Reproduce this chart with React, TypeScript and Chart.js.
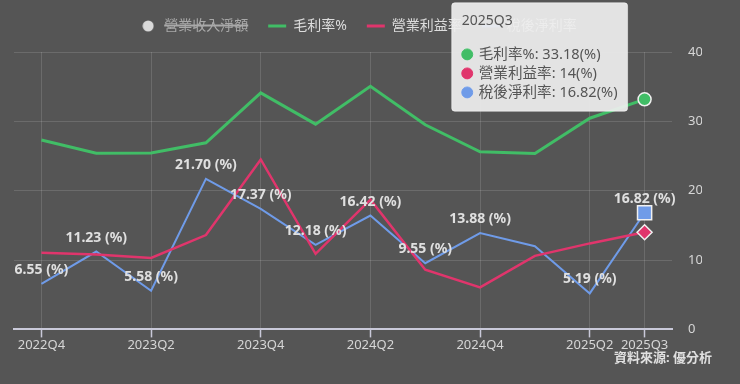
import React, { useEffect, useRef } from "react";
import { Chart, registerables, Tooltip } from "chart.js";

Chart.register(...registerables);

const quarters = ["2022Q4", "2023Q1", "2023Q2", "2023Q3", "2023Q4", "2024Q1", "2024Q2", "2024Q3", "2024Q4", "2025Q1", "2025Q2", "2025Q3"];
const revenue: number[] = []; // hidden series (not visible in the picture)
const grossMargin = [27.3, 25.4, 25.45, 26.9, 34.1, 29.6, 35.05, 29.5, 25.6, 25.35, 30.45, 33.18];
const operatingMargin = [11.05, 10.8, 10.3, 13.6, 24.5, 10.9, 18.7, 8.6, 6.06, 10.6, 12.4, 14];
const netMargin = [6.55, 11.23, 5.58, 21.7, 17.37, 12.18, 16.42, 9.55, 13.88, 12.0, 5.19, 16.82];
const netLabelShown = [true, true, true, true, true, true, true, true, true, false, true, true];
const yTicks = [0, 10, 20, 30, 40];
const sourceText = "資料來源: 優分析";

const BG = "#555555";
const GREEN = "#41bd66";
const PINK = "#e0356c";
const BLUE = "#6f9be8";
const FONT = "'Noto Sans', 'Noto Sans CJK TC', sans-serif";

(Tooltip as any).positioners.besideLast = function (elements: any[]) {
  if (!elements.length) return false;
  const el = elements[0].element;
  const area = this.chart.chartArea;
  return { x: el.x - 17, y: area.top + 5, xAlign: "right", yAlign: "center" };
};

export default function App() {
  const ref = useRef<HTMLCanvasElement | null>(null);

  useEffect(() => {
    document.body.style.margin = "0";
    document.body.style.background = BG;
    const canvas = ref.current!;
    Chart.defaults.font.family = FONT;

    const dot = document.createElement("canvas");
    dot.width = 12;
    dot.height = 12;
    const dctx = dot.getContext("2d")!;
    dctx.fillStyle = "#d9d9d9";
    dctx.beginPath();
    dctx.arc(6, 6, 5.5, 0, Math.PI * 2);
    dctx.fill();

    const last = quarters.length - 1;
    const lastOnly = (r: number) => (ctx: any) => (ctx.dataIndex === last ? r : 0);

    const bgPlugin = {
      id: "bg",
      beforeDraw(chart: any) {
        const c = chart.ctx;
        c.save();
        c.fillStyle = BG;
        c.fillRect(0, 0, chart.width, chart.height);
        c.restore();
      },
    };

    const legendSpacer = {
      id: "legendSpacer",
      beforeInit(chart: any) {
        const lg = chart.legend;
        if (!lg) return;
        const orig = lg.fit;
        lg.fit = function () {
          orig.call(this);
          this.height += 9;
        };
      },
    };

    const labelsPlugin = {
      id: "netLabels",
      afterDatasetsDraw(chart: any) {
        const meta = chart.getDatasetMeta(3);
        const c = chart.ctx;
        c.save();
        c.font = `bold 14px ${FONT}`;
        c.textAlign = "center";
        c.textBaseline = "middle";
        c.fillStyle = "#e0e0e0";
        meta.data.forEach((pt: any, i: number) => {
          if (!netLabelShown[i]) return;
          c.fillText(`${netMargin[i].toFixed(2)} (%)`, pt.x, pt.y - 14);
        });
        c.restore();
      },
    };

    const sourcePlugin = {
      id: "source",
      afterDraw(chart: any) {
        const c = chart.ctx;
        c.save();
        c.font = `bold 13px ${FONT}`;
        c.textAlign = "right";
        c.textBaseline = "middle";
        c.fillStyle = "#e0e0e0";
        c.fillText(sourceText, chart.width - 28, chart.height - 26);
        c.restore();
      },
    };

    const lineColors = ["#d9d9d9", GREEN, PINK, BLUE];

    const chart = new Chart(canvas, {
      type: "line",
      data: {
        labels: quarters,
        datasets: [
          {
            type: "bar",
            label: "營業收入淨額",
            data: revenue,
            backgroundColor: "#d9d9d9",
            borderColor: "#d9d9d9",
            hidden: true,
            yAxisID: "yRev",
          } as any,
          {
            label: "毛利率%",
            data: grossMargin,
            borderColor: GREEN,
            backgroundColor: GREEN,
            borderWidth: 3,
            tension: 0,
            pointStyle: "circle",
            pointRadius: lastOnly(6.5),
            pointHoverRadius: lastOnly(6.5),
            pointBorderColor: "#f0f0f0",
            pointHoverBorderColor: "#f0f0f0",
            pointBorderWidth: 1.5,
            pointHoverBorderWidth: 1.5,
            pointBackgroundColor: GREEN,
            pointHoverBackgroundColor: GREEN,
            yAxisID: "y",
          },
          {
            label: "營業利益率",
            data: operatingMargin,
            borderColor: PINK,
            backgroundColor: PINK,
            borderWidth: 2.5,
            tension: 0,
            pointStyle: "rectRot",
            pointRadius: lastOnly(7.5),
            pointHoverRadius: lastOnly(7.5),
            pointBorderColor: "#f0f0f0",
            pointHoverBorderColor: "#f0f0f0",
            pointBorderWidth: 1.5,
            pointHoverBorderWidth: 1.5,
            pointBackgroundColor: PINK,
            pointHoverBackgroundColor: PINK,
            yAxisID: "y",
          },
          {
            label: "稅後淨利率",
            data: netMargin,
            borderColor: BLUE,
            backgroundColor: BLUE,
            borderWidth: 2,
            tension: 0,
            pointStyle: "rect",
            pointRadius: lastOnly(10),
            pointHoverRadius: lastOnly(10),
            pointBorderColor: "#f0f0f0",
            pointHoverBorderColor: "#f0f0f0",
            pointBorderWidth: 1.5,
            pointHoverBorderWidth: 1.5,
            pointBackgroundColor: BLUE,
            pointHoverBackgroundColor: BLUE,
            yAxisID: "y",
          },
        ],
      },
      options: {
        responsive: false,
        animation: false,
        layout: { padding: { left: 14, right: 38, top: -1, bottom: 31 } },
        interaction: { mode: "index", intersect: false },
        scales: {
          x: {
            offset: true,
            grid: {
              offset: false,
              color: "rgba(255,255,255,0.13)",
              tickColor: "#c9c9d9",
              tickLength: 8,
              tickWidth: 1.5,
            },
            border: { color: "#c9c9d9", width: 2 },
            ticks: {
              autoSkip: false,
              maxRotation: 0,
              padding: 0,
              color: "#d6d6d6",
              font: { size: 13 },
              callback: (_v: any, i: number, ticks: any[]) =>
                i % 2 === 0 || i === ticks.length - 1 ? quarters[i] : null,
            },
          },
          y: {
            position: "right",
            min: yTicks[0],
            max: yTicks[yTicks.length - 1],
            afterBuildTicks: (axis: any) => {
              axis.ticks = yTicks.map((v) => ({ value: v }));
            },
            afterFit: (axis: any) => {
              axis.width = 30;
            },
            grid: { color: "rgba(255,255,255,0.13)", drawTicks: false },
            border: { display: false },
            ticks: { color: "#d6d6d6", padding: 16, font: { size: 13 } },
          },
          yRev: { display: false, position: "left", min: 0 },
        },
        plugins: {
          legend: {
            position: "top",
            labels: {
              usePointStyle: true,
              pointStyleWidth: 18,
              boxHeight: 10,
              padding: 20,
              color: "#dddddd",
              font: { size: 14 },
              generateLabels: (ch: any) => {
                const items = (Chart.defaults.plugins.legend.labels as any).generateLabels(ch);
                return items.map((it: any, i: number) => ({
                  ...it,
                  pointStyle: i === 0 ? dot : "line",
                  lineWidth: i === 0 ? 0 : 3,
                  strokeStyle: lineColors[i],
                  fillStyle: lineColors[i],
                  fontColor: it.hidden ? "#a9a9a9" : "#dddddd",
                }));
              },
            },
          },
          tooltip: {
            position: "besideLast" as any,
            xAlign: "right",
            yAlign: "center",
            backgroundColor: "rgba(238,238,238,0.93)",
            borderColor: "rgba(255,255,255,0.5)",
            borderWidth: 1,
            titleColor: "#555555",
            bodyColor: "#555555",
            titleFont: { size: 14, weight: "normal" },
            bodyFont: { size: 14.6 },
            titleMarginBottom: 16,
            bodySpacing: 1.5,
            padding: 10,
            caretSize: 0,
            caretPadding: 0,
            cornerRadius: 3,
            usePointStyle: true,
            boxWidth: 11,
            boxHeight: 11,
            boxPadding: 4,
            callbacks: {
              label: (ctx: any) => `${ctx.dataset.label}: ${ctx.raw}(%)`,
              labelPointStyle: () => ({ pointStyle: "circle", rotation: 0 }),
              labelColor: (ctx: any) => ({
                borderColor: ctx.dataset.borderColor,
                backgroundColor: ctx.dataset.borderColor,
              }),
            },
          },
        },
      },
      plugins: [legendSpacer, bgPlugin, labelsPlugin, sourcePlugin],
    } as any);

    const activate = () => {
      const active = [1, 2, 3].map((d) => ({ datasetIndex: d, index: last }));
      chart.setActiveElements(active);
      const pt = chart.getDatasetMeta(1).data[last] as any;
      chart.tooltip!.setActiveElements(active, { x: pt.x, y: pt.y });
      chart.update();
    };
    activate();
    let alive = true;
    if ((document as any).fonts && (document as any).fonts.ready) {
      (document as any).fonts.ready.then(() => {
        if (alive) activate();
      });
    }

    return () => {
      alive = false;
      chart.destroy();
    };
  }, []);

  return (
    <div style={{ width: 740, height: 384 }}>
      <canvas ref={ref} width={740} height={384} style={{ display: "block" }} />
    </div>
  );
}
